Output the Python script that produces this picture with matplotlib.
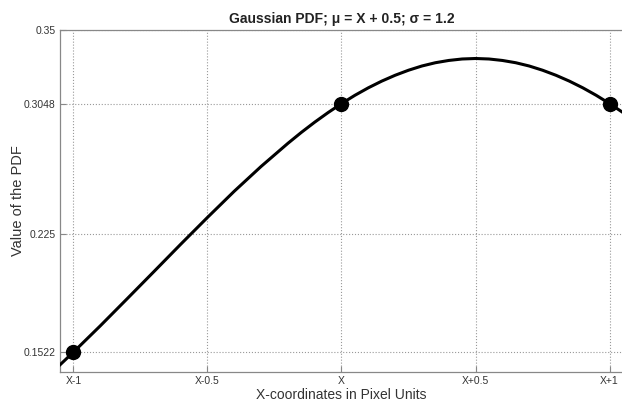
import numpy as np
import matplotlib.pyplot as plt

plt.rcParams['font.family'] = ['Liberation Sans', 'DejaVu Sans']

# curve (offset from X, pdf value)
x_curve = [-1.05, -1.0, -0.9, -0.8, -0.7, -0.6, -0.5, -0.4, -0.3, -0.2, -0.15, -0.1,
           -0.05, 0.0, 0.05, 0.1, 0.15, 0.2, 0.25, 0.3, 0.35, 0.4, 0.45, 0.5, 0.55,
           0.6, 0.65, 0.7, 0.75, 0.8, 0.85, 0.9, 0.95, 1.0, 1.05]
y_curve = [0.1444, 0.1522, 0.1683, 0.1849, 0.2016, 0.2184, 0.2349, 0.2510, 0.2662,
           0.2804, 0.2871, 0.2934, 0.2993, 0.3048, 0.3099, 0.3145, 0.3186, 0.3222,
           0.3253, 0.3279, 0.3299, 0.3313, 0.3322, 0.3325, 0.3322, 0.3313, 0.3299,
           0.3279, 0.3253, 0.3222, 0.3186, 0.3145, 0.3099, 0.3048, 0.2993]

# pixel samples
x_pts = [-1, 0, 1]
y_pts = [0.1522, 0.3048, 0.3048]

x_ticks = [-1, -0.5, 0, 0.5, 1]
x_ticklabels = ['X-1', 'X-0.5', 'X', 'X+0.5', 'X+1']
y_ticks = [0.1522, 0.225, 0.3048, 0.35]
y_ticklabels = ['0.1522', '0.225', '0.3048', '0.35']

fig = plt.figure(figsize=(6.22, 4.03), dpi=100)
ax = fig.add_axes([60 / 622, 31 / 403, 563 / 622, 342 / 403])

ax.plot(x_curve, y_curve, color='black', lw=2.2, zorder=3)
ax.plot(x_pts, y_pts, 'o', color='black', ms=10, zorder=4)

ax.set_xlim(-1.05, 1.05)
ax.set_ylim(0.14, 0.35)
ax.set_xticks(x_ticks)
ax.set_xticklabels(x_ticklabels)
ax.set_yticks(y_ticks)
ax.set_yticklabels(y_ticklabels)
ax.tick_params(direction='in', length=4, width=0.8, color='#888888',
               labelsize=7.5, labelcolor='#333333', pad=3)

ax.grid(True, linestyle=':', color='#999999', linewidth=0.8)
for s in ax.spines.values():
    s.set_color('#888888')
    s.set_linewidth(0.9)
ax.spines['right'].set_visible(False)

ax.set_title('Gaussian PDF; \u03bc = X + 0.5; \u03c3 = 1.2', fontsize=10,
             fontweight='bold', color='#222222', pad=5)
ax.set_xlabel('X-coordinates in Pixel Units', fontsize=10, color='#333333', labelpad=1)
ax.set_ylabel('Value of the PDF', fontsize=10.5, color='#333333', labelpad=-1)

fig.savefig('out.png', dpi=100)
